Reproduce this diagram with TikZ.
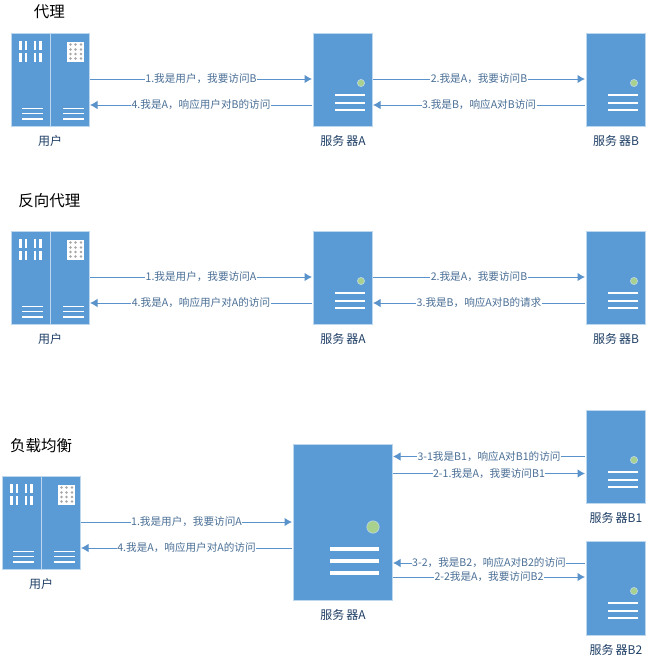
\documentclass[tikz,border=0pt]{standalone}
\usepackage{fontspec}
\setmainfont{Noto Sans CJK SC}
\usetikzlibrary{arrows.meta}
\definecolor{srvblue}{HTML}{5B9BD5}
\definecolor{srvedge}{HTML}{BDD7EE}
\definecolor{linkblue}{HTML}{5A93CB}
\definecolor{txtblue}{HTML}{4A6F96}
\definecolor{capblue}{HTML}{1F3F66}
\definecolor{dotgreen}{HTML}{A9D18E}
\tikzset{
  x=1pt,y=-1pt,
  panel/.style={fill=srvblue,draw=srvedge,line width=.5pt,inner sep=0pt,outer sep=0pt,minimum width=#1},
  panel/.default=59pt,
  captext/.style={text=capblue,font=\fontsize{12}{14}\selectfont,inner sep=0pt},
  headtext/.style={text=black,font=\fontsize{15.5}{18}\selectfont,inner sep=0pt},
  link/.style={draw=linkblue,line width=1pt,shorten >=1pt,shorten <=1pt},
  tipto/.style={link,-{Latex[length=7.5pt,width=8.5pt]}},
  tipfrom/.style={link,{Latex[length=7.5pt,width=8.5pt]}-},
  msg/.style={text=txtblue,fill=white,font=\fontsize{10.6}{12}\selectfont,inner xsep=.5pt,inner ysep=0pt},
  whitebar/.style={fill=white,draw=none},
  led/.style={fill=dotgreen,draw=srvedge,line width=.6pt},
}
% small server: node name; icon placed from its north-east corner
\newcommand\smallicon[1]{%
  \filldraw[led] ([shift={(-11,50)}]#1.north east) circle (3.6);
  \foreach \yy in {62,69.5,77}{
    \fill[whitebar] ([shift={(-37,\yy-1)}]#1.north east) rectangle ([shift={(-7,\yy+1)}]#1.north east);}
}
\newcommand\bigicon[1]{%
  \filldraw[led] ([shift={(-19,83)}]#1.north east) circle (6.2);
  \foreach \yy in {105,117,129}{
    \fill[whitebar] ([shift={(-62,\yy-1.7)}]#1.north east) rectangle ([shift={(-13,\yy+1.7)}]#1.north east);}
}
% user: two panels, name.north west is the corner
\newcommand\usericon[1]{%
  \fill[srvedge] ([shift={(38.5,0)}]#1.north west) rectangle ([shift={(40,93)}]#1.north west);
  \foreach \xx in {8,13.5,22.5,28}{
    \foreach \yy in {8,20}{
      \fill[whitebar] ([shift={(\xx,\yy)}]#1.north west) rectangle ([shift={(\xx+2.7,\yy+8.5)}]#1.north west);}}
  \fill[whitebar] ([shift={(55.5,8.5)}]#1.north west) rectangle ([shift={(73,28.5)}]#1.north west);
  \foreach \xx in {59.5,64.5,70}{
    \foreach \yy in {11.5,16.5,21,25.5}{
      \fill[gray!70] ([shift={(\xx,\yy)}]#1.north west) circle (1.3);}}
  \foreach \xx in {11,52}{
    \foreach \yy in {75.5,80.5,86}{
      \fill[whitebar] ([shift={(\xx,\yy-.8)}]#1.north west) rectangle ([shift={(\xx+21,\yy+.8)}]#1.north west);}}
}
\begin{document}
\begin{tikzpicture}
\useasboundingbox (0,0) rectangle (650,665);
\fill[white] (0,0) rectangle (650,665);

% ---- section 1
\node[headtext] (t1) at (49.5,12) {代理};
\node[panel=78pt,minimum height=93pt] (u1) at (50,79.5) {};
\node[panel,minimum height=93pt] (a1) at (342.5,79.5) {};
\node[panel,minimum height=93pt] (b1) at (615.5,79.5) {};
\usericon{u1}\smallicon{a1}\smallicon{b1}
\node[captext] (u1c) at (50,140.5) {用户};
\node[captext] (a1c) at (343,141) {服务\,器A};
\node[captext] (b1c) at (616,141) {服务\,器B};
\draw[tipto] ([yshift=-46pt]u1.north east) -- node[msg]{1.我是用户，我要访问B} ([yshift=-46pt]a1.north west);
\draw[tipfrom] ([yshift=-72pt]u1.north east) -- node[msg]{4.我是A，响应用户对B的访问} ([yshift=-72pt]a1.north west);
\draw[tipto] ([yshift=-46pt]a1.north east) -- node[msg]{2.我是A，我要访问B} ([yshift=-46pt]b1.north west);
\draw[tipfrom] ([yshift=-72pt]a1.north east) -- node[msg]{3.我是B，响应A对B访问} ([yshift=-72pt]b1.north west);

% ---- section 2
\node[headtext] (t2) at (49.5,201) {反向代理};
\node[panel=78pt,minimum height=93pt] (u2) at (50,277.5) {};
\node[panel,minimum height=93pt] (a2) at (342.5,277.5) {};
\node[panel,minimum height=93pt] (b2) at (615.5,277.5) {};
\usericon{u2}\smallicon{a2}\smallicon{b2}
\node[captext] (u2c) at (50,338.5) {用户};
\node[captext] (a2c) at (343,339) {服务\,器A};
\node[captext] (b2c) at (616,339) {服务\,器B};
\draw[tipto] ([yshift=-46pt]u2.north east) -- node[msg]{1.我是用户，我要访问A} ([yshift=-46pt]a2.north west);
\draw[tipfrom] ([yshift=-72pt]u2.north east) -- node[msg]{4.我是A，响应用户对A的访问} ([yshift=-72pt]a2.north west);
\draw[tipto] ([yshift=-46pt]a2.north east) -- node[msg]{2.我是A，我要访问B} ([yshift=-46pt]b2.north west);
\draw[tipfrom] ([yshift=-72pt]a2.north east) -- node[msg]{3.我是B，响应A对B的请求} ([yshift=-72pt]b2.north west);

% ---- section 3
\node[headtext] (t3) at (41,446) {负载均衡};
\node[panel=78pt,minimum height=93pt] (u3) at (41,522.5) {};
\node[panel=99pt,minimum height=156pt] (a3) at (342.5,522) {};
\node[panel,minimum height=93pt] (b3) at (615.5,456.5) {};
\node[panel,minimum height=94pt] (c3) at (615.5,588) {};
\usericon{u3}\bigicon{a3}\smallicon{b3}\smallicon{c3}
\node[captext] (u3c) at (41,583.5) {用户};
\node[captext] (a3c) at (343,614.5) {服务\,器A};
\node[captext] (b3c) at (616,517.5) {服务\,器B1};
\node[captext] (c3c) at (616,649.5) {服务\,器B2};
\draw[tipto] ([yshift=-46pt]u3.north east) -- node[msg]{1.我是用户，我要访问A} ([yshift=-78pt]a3.north west);
\draw[tipfrom] ([yshift=-72pt]u3.north east) -- node[msg]{4.我是A，响应用户对A的访问} ([yshift=-104pt]a3.north west);
\draw[tipfrom] ([yshift=-12.5pt]a3.north east) -- node[msg]{3-1我是B1，响应A对B1的访问} ([yshift=-46.5pt]b3.north west);
\draw[tipto] ([yshift=-29.5pt]a3.north east) -- node[msg]{2-1.我是A，我要访问B1} ([yshift=-63.5pt]b3.north west);
\draw[tipfrom] ([yshift=-119pt]a3.north east) -- node[msg]{3-2，我是B2，响应A对B2的访问} ([yshift=-22pt]c3.north west);
\draw[tipto] ([yshift=-133pt]a3.north east) -- node[msg]{2-2我是A，我要访问B2} ([yshift=-36pt]c3.north west);
\end{tikzpicture}
\end{document}
